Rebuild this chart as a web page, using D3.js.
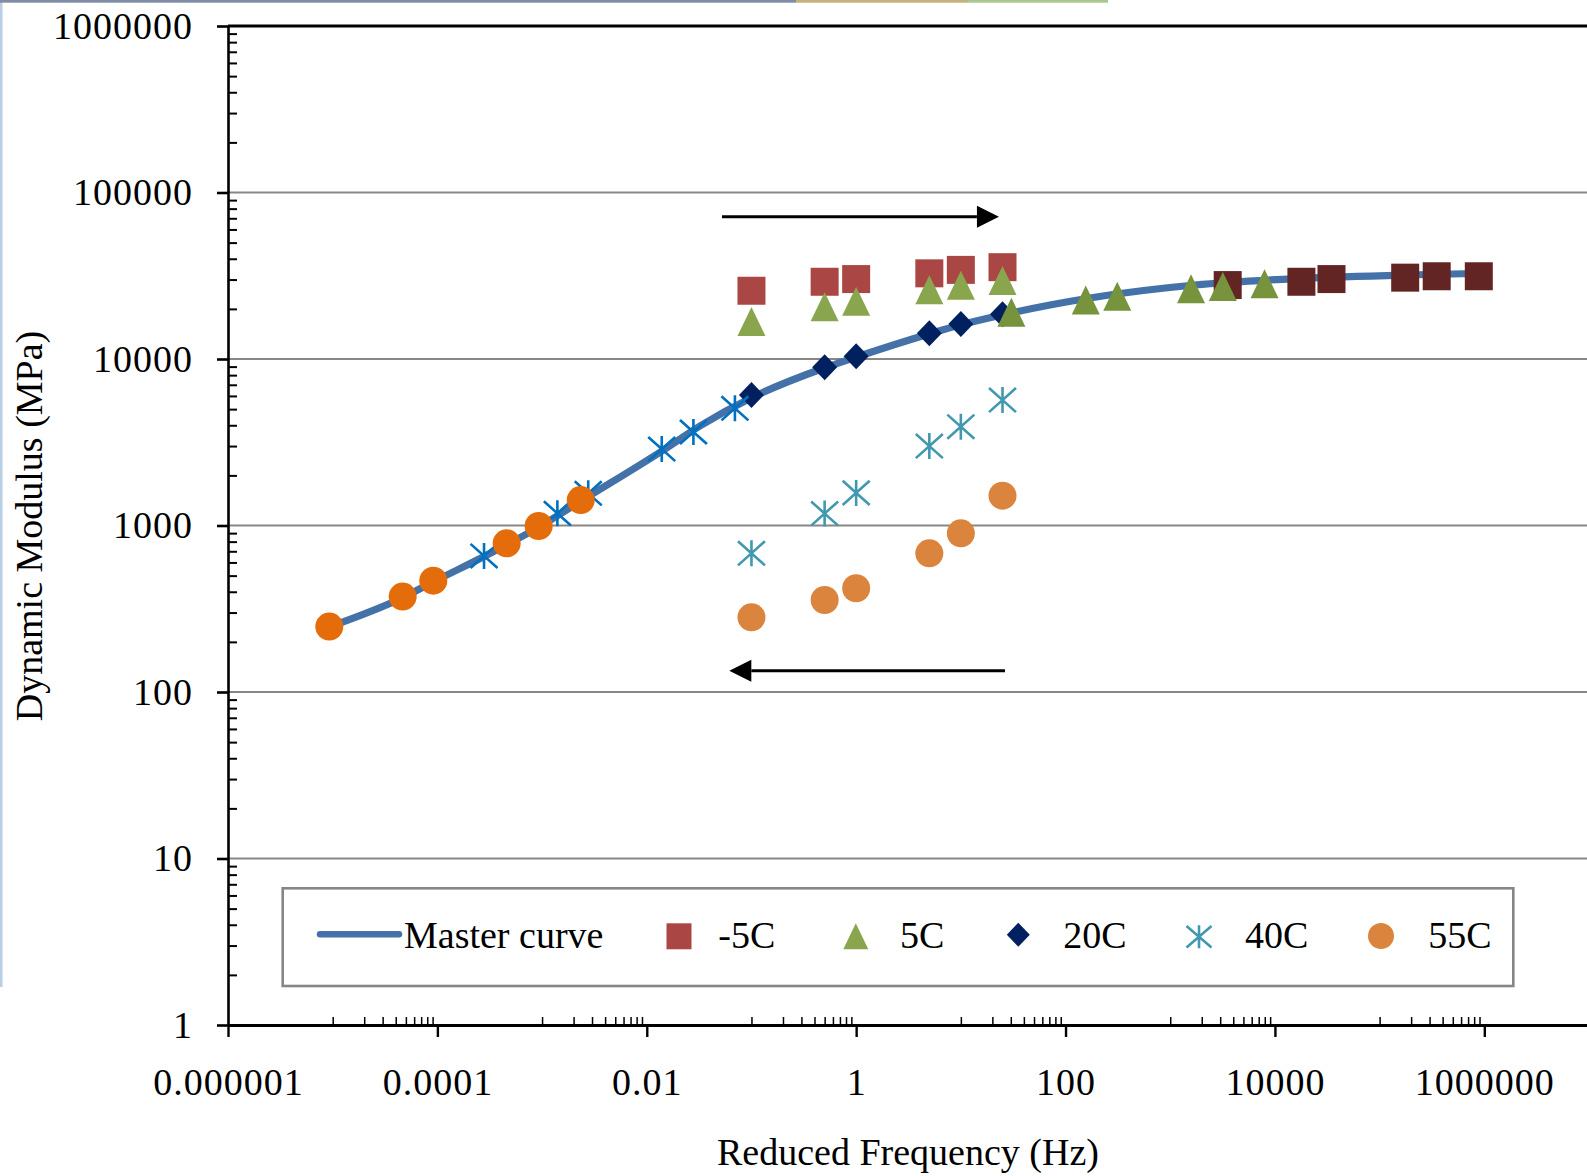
<!DOCTYPE html>
<html><head><meta charset="utf-8">
<script src="https://cdn.jsdelivr.net/npm/d3@7"></script>
<style>
body{margin:0;background:#fff}
svg{display:block}
text{font-family:"Liberation Serif","Times New Roman",serif;fill:#000}
</style>
</head><body>
<svg id="c" width="1587" height="1176"></svg>
<script>
// ---------- DATA ----------
const testFreq = [0.1, 0.5, 1, 5, 10, 25];                 // Hz, measured frequencies
const E_m5  = [25700, 29100, 30200, 32700, 34300, 35600];  // -5C
const E_5   = [16800, 20600, 22200, 26100, 27700, 29600];  // 5C
const E_20  = [6080, 8910, 10400, 14300, 16200, 18600];    // 20C (reference)
const E_40  = [681, 1180, 1570, 3000, 3920, 5670];         // 40C
const E_55  = [281, 357, 420, 681, 898, 1510];             // 55C

// shifted (reduced frequency) points
const redFreq_m5 = [3540, 17900, 34700, 175500, 351000, 886000];
const redE_m5    = [27800, 29100, 30200, 30800, 31400, 31400];
const redFreq_5  = [30.4, 156, 312, 1580, 3180, 7960];
const redE_5     = [19100, 22600, 23800, 26400, 27300, 28300];
const redFreq_40 = [0.000279, 0.00140, 0.00276, 0.0139, 0.0279, 0.0695];
const redE_40    = [656, 1183, 1561, 2880, 3644, 5057];
const redFreq_55 = [0.00000928, 0.0000466, 0.0000914, 0.000459, 0.000928, 0.00234];
const redE_55    = [247, 374, 466, 782, 993, 1422];

// master curve
const masterFreq = [0.00000922, 0.0000469, 0.0000908, 0.000279, 0.000934, 0.00235, 0.01397, 0.0322,
                    0.0989, 0.4947, 1.007, 4.96, 9.80, 24.7, 71.0, 171, 1721, 17330, 178300, 868700];
const masterE    = [245.7, 369.5, 457.9, 651.4, 979.5, 1403, 2802, 3960,
                    5833, 8830, 10280, 14130, 16000, 18380, 21100, 23250, 27820, 30450, 31950, 32620];

// axis ticks
const xTickLabels = [0.000001, 0.0001, 0.01, 1, 100, 10000, 1000000];
const yTickLabels = [1, 10, 100, 1000, 10000, 100000, 1000000];
const legendLabels = ["Master curve", "-5C", "5C", "20C", "40C", "55C"];

// annotation arrows (data space)
const arrowTop = {from: 0.0523, to: 23.1, E: 71600};
const arrowBottom = {from: 26.4, to: 0.0614, E: 134.3};

// ---------- CHART ----------
const W = 1587, H = 1176;
const svg = d3.select("#c");
const x = d3.scaleLog().domain([1e-6, 1e7]).range([228, 1589]);
const y = d3.scaleLog().domain([1, 1e6]).range([1025, 26]);

// window frame remnants
svg.append("rect").attr("x",0).attr("y",0).attr("width",2.5).attr("height",987).attr("fill","#B9CDE5");
svg.append("rect").attr("x",0).attr("y",0).attr("width",796).attr("height",2.7).attr("fill","#7F8CA6");
svg.append("rect").attr("x",796).attr("y",0).attr("width",172).attr("height",2.7).attr("fill","#C4B27A");
svg.append("rect").attr("x",968).attr("y",0).attr("width",140).attr("height",2.7).attr("fill","#A9C890");

// gridlines
const gridVals = yTickLabels.filter(v => v > 1 && v < 1e6);
svg.append("g").selectAll("line").data(gridVals).join("line")
  .attr("x1", x(1e-6)).attr("x2", W).attr("y1", d => y(d)).attr("y2", d => y(d))
  .attr("stroke", "#878787").attr("stroke-width", 2.2);
// top border
svg.append("line").attr("x1", x(1e-6)).attr("x2", W).attr("y1", y(1e6)).attr("y2", y(1e6))
  .attr("stroke", "#000").attr("stroke-width", 3);

// minor ticks
const minorY = [];
for (let k = 0; k < 6; k++) for (let m = 2; m <= 9; m++) minorY.push(m * Math.pow(10, k));
const minorX = [];
for (const k of [-5, -3, -1, 1, 3, 5]) for (let m = 1; m <= 9; m++) minorX.push(m * Math.pow(10, k));

const fmtX = d => d < 1 ? d.toFixed(Math.round(-Math.log10(d))) : d3.format("d")(d);

const gyMinor = svg.append("g").attr("transform", `translate(${x(1e-6)},0)`)
  .call(d3.axisRight(y).tickValues(minorY).tickSize(9).tickFormat(""));
gyMinor.select(".domain").remove();
gyMinor.selectAll("line").attr("stroke","#000").attr("stroke-width",2);

const gxMinor = svg.append("g").attr("transform", `translate(0,${y(1)})`)
  .call(d3.axisTop(x).tickValues(minorX).tickSize(8).tickFormat(""));
gxMinor.select(".domain").remove();
gxMinor.selectAll("line").attr("stroke","#000").attr("stroke-width",1.5);

// major axes
const gy = svg.append("g").attr("transform", `translate(${x(1e-6)},0)`)
  .call(d3.axisLeft(y).tickValues(yTickLabels).tickFormat(d3.format("d")).tickSize(11).tickSizeOuter(0).tickPadding(24));
gy.select(".domain").attr("stroke","#000").attr("stroke-width",2.6);
gy.selectAll(".tick line").attr("stroke","#000").attr("stroke-width",2.6);
gy.selectAll("text").attr("font-family",'"Liberation Serif",serif').attr("font-size",38)
  .attr("letter-spacing","1px").attr("fill","#000");

const gx = svg.append("g").attr("transform", `translate(0,${y(1)})`)
  .call(d3.axisBottom(x).tickValues(xTickLabels).tickFormat(fmtX).tickSize(12).tickSizeOuter(0).tickPadding(31));
gx.select(".domain").attr("stroke","#000").attr("stroke-width",3);
gx.selectAll(".tick line").attr("stroke","#000").attr("stroke-width",2.4);
gx.selectAll("text").attr("font-family",'"Liberation Serif",serif').attr("font-size",38)
  .attr("letter-spacing","1px").attr("fill","#000");

// axis titles
svg.append("text").attr("transform","translate(42,526) rotate(-90)").attr("text-anchor","middle")
  .attr("font-size",38).text("Dynamic Modulus (MPa)");
svg.append("text").attr("x",908).attr("y",1165).attr("text-anchor","middle")
  .attr("font-size",38).text("Reduced Frequency (Hz)");

// master curve
const line = d3.line().x(d => x(d[0])).y(d => y(d[1])).curve(d3.curveMonotoneX);
svg.append("path").datum(d3.zip(masterFreq, masterE)).attr("d", line)
  .attr("fill","none").attr("stroke","#4472A8").attr("stroke-width",7.2)
  .attr("stroke-linecap","round").attr("stroke-linejoin","round");

// marker shapes
function shapePath(shape, w, h) {
  const a = w/2, b = h/2;
  switch (shape) {
    case "square": return `M${-a},${-b}H${a}V${b}H${-a}Z`;
    case "triangle": return `M0,${-b}L${a},${b}L${-a},${b}Z`;
    case "diamond": return `M0,${-b}L${a},0L0,${b}L${-a},0Z`;
    case "circle": return `M${-a},0A${a},${b} 0 1,0 ${a},0A${a},${b} 0 1,0 ${-a},0Z`;
    case "asterisk": return `M0,${-b}V${b}M${-a},${-b*0.93}L${a},${b*0.93}M${-a},${b*0.93}L${a},${-b*0.93}`;
  }
}
const sizes = {square:[28,28], triangle:[28,29], diamond:[25,26], circle:[28,28], asterisk:[27,26]};
const legendSizes = {square:[25,26], triangle:[25,26], diamond:[23,24], circle:[26,26], asterisk:[25,23]};

function drawSeries(freq, E, shape, color) {
  const [w, h] = sizes[shape];
  const g = svg.append("g");
  g.selectAll("path").data(d3.zip(freq, E)).join("path")
    .attr("transform", d => `translate(${x(d[0])},${y(d[1])})`)
    .attr("d", shapePath(shape, w, h))
    .attr("fill", shape === "asterisk" ? "none" : color)
    .attr("stroke", shape === "asterisk" ? color : "none")
    .attr("stroke-width", shape === "asterisk" ? 2.6 : 0);
}

const colors = {m5:"#AA4643", m5s:"#632523", c5:"#89A54E", c5s:"#77933C", c20:"#002060",
                c40:"#4198AF", c40s:"#0070C0", c55:"#DB843D", c55s:"#E46C0A"};

drawSeries(testFreq, E_m5, "square", colors.m5);
drawSeries(testFreq, E_5, "triangle", colors.c5);
drawSeries(testFreq, E_40, "asterisk", colors.c40);
drawSeries(testFreq, E_55, "circle", colors.c55);
drawSeries(redFreq_m5, redE_m5, "square", colors.m5s);
drawSeries(testFreq, E_20, "diamond", colors.c20);
drawSeries(redFreq_5, redE_5, "triangle", colors.c5s);
drawSeries(redFreq_40, redE_40, "asterisk", colors.c40s);
drawSeries(redFreq_55, redE_55, "circle", colors.c55s);

// arrows
function arrow(a) {
  const x1 = x(a.from), x2 = x(a.to), yy = y(a.E);
  const dir = Math.sign(x2 - x1), hl = 22, hh = 11;
  svg.append("line").attr("x1", x1).attr("x2", x2 - dir*hl).attr("y1", yy).attr("y2", yy)
    .attr("stroke","#000").attr("stroke-width",3);
  svg.append("path").attr("d", `M${x2},${yy}L${x2 - dir*hl},${yy-hh}L${x2 - dir*hl},${yy+hh}Z`).attr("fill","#000");
}
arrow(arrowTop);
arrow(arrowBottom);

// legend
const lg = svg.append("g");
lg.append("rect").attr("x",282.7).attr("y",888.3).attr("width",1230.6).attr("height",97.7)
  .attr("fill","#fff").attr("stroke","#868686").attr("stroke-width",2.6);
lg.append("line").attr("x1",320).attr("x2",399).attr("y1",934.3).attr("y2",934.3)
  .attr("stroke","#4472A8").attr("stroke-width",6.5).attr("stroke-linecap","round");
const legItems = [
  {label: legendLabels[0], tx: 404},
  {label: legendLabels[1], shape:"square", color: colors.m5, cx: 679, cy: 936.3, tx: 718.3},
  {label: legendLabels[2], shape:"triangle", color: colors.c5, cx: 855.8, cy: 936.3, tx: 900},
  {label: legendLabels[3], shape:"diamond", color: colors.c20, cx: 1018.3, cy: 934.7, tx: 1063.3},
  {label: legendLabels[4], shape:"asterisk", color: colors.c40, cx: 1199, cy: 936.7, tx: 1245},
  {label: legendLabels[5], shape:"circle", color: colors.c55, cx: 1381, cy: 936, tx: 1428.3}
];
legItems.forEach(it => {
  if (it.shape) {
    const [w, h] = legendSizes[it.shape];
    lg.append("path").attr("transform", `translate(${it.cx},${it.cy})`)
      .attr("d", shapePath(it.shape, w, h))
      .attr("fill", it.shape === "asterisk" ? "none" : it.color)
      .attr("stroke", it.shape === "asterisk" ? it.color : "none")
      .attr("stroke-width", it.shape === "asterisk" ? 2.6 : 0);
  }
  lg.append("text").attr("x", it.tx).attr("y", 948.3).attr("font-size", 38).text(it.label);
});
</script>
</body></html>
